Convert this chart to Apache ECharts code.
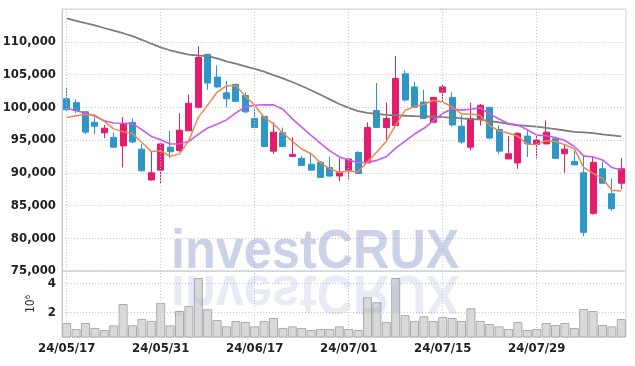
<!DOCTYPE html>
<html><head><meta charset="utf-8">
<script src="https://cdn.jsdelivr.net/npm/echarts@6/dist/echarts.min.js"></script>
<style>html,body{margin:0;padding:0;background:#fff}#c{width:635px;height:366px}</style>
</head><body><div id="c"></div>
<script>
const dates = ['24/05/17','24/05/20','24/05/21','24/05/22','24/05/23','24/05/24','24/05/27','24/05/28','24/05/29','24/05/30',
'24/05/31','24/06/03','24/06/04','24/06/05','24/06/07','24/06/10','24/06/11','24/06/12','24/06/13','24/06/14',
'24/06/17','24/06/18','24/06/19','24/06/20','24/06/21','24/06/24','24/06/25','24/06/26','24/06/27','24/06/28',
'24/07/01','24/07/02','24/07/03','24/07/04','24/07/05','24/07/08','24/07/09','24/07/10','24/07/11','24/07/12',
'24/07/15','24/07/16','24/07/17','24/07/18','24/07/19','24/07/22','24/07/23','24/07/24','24/07/25','24/07/26',
'24/07/29','24/07/30','24/07/31','24/08/01','24/08/02','24/08/05','24/08/06','24/08/07','24/08/08','24/08/09'];
const opens  = [101300,100700,99300,97700,96100,95400,94100,97700,93600,88900,90400,93900,93400,96400,100000,108100,104600,102200,103500,101800,98300,98600,93300,96100,92500,92200,91300,91600,90800,89500,90400,93100,91500,99500,96900,97200,105100,103100,100800,97700,102300,101500,97100,93900,98300,100000,96600,92100,91500,95600,94300,94400,95200,92900,91700,90000,83800,90600,86800,88400];
const closes = [99600,99500,96200,97100,96800,93900,97400,94700,90300,90000,94400,93200,96500,100600,107600,103700,103100,101300,100900,99300,96900,94000,96200,94000,92800,91100,90400,89300,89500,90000,92100,89900,96900,96900,98300,104400,101100,100000,98300,101500,103100,97300,94700,98300,100300,95300,93300,92900,96000,94400,95000,96200,92200,93600,91200,80900,91600,88400,84500,90600];
const lows   = [99500,99100,95900,95900,95300,93800,90800,94500,90200,88800,88400,92200,93200,96400,99800,102700,103000,100000,100800,99100,96900,93900,92900,93900,92500,91000,90400,89200,89300,88700,89000,89800,91500,96900,95000,97200,100900,99900,98200,97700,100900,97000,94400,93400,97200,95100,92900,92100,90600,92400,92200,94400,92100,90000,91200,80300,83600,88400,84200,87500];
const highs  = [103100,101200,99400,98400,97300,96100,98500,98300,94400,93300,94500,96400,99100,101900,109300,108100,106400,104000,103600,102300,100000,98700,97700,96900,95400,92600,93000,91800,92500,92200,92200,93300,97700,103700,100700,107800,105600,103900,102700,101600,103500,102300,98800,100700,100500,100000,97200,95600,96200,96400,95600,98000,95200,94300,93300,92600,92500,91700,89100,92200];
const volumes = [1280000,870000,1280000,940000,800000,1120000,2580000,1120000,1550000,1420000,2650000,1120000,2100000,2450000,4360000,2220000,1480000,1050000,1420000,1350000,1050000,1420000,1620000,940000,1050000,940000,800000,870000,870000,1050000,870000,800000,3040000,2700000,1350000,4360000,1810000,1420000,1740000,1420000,1690000,1620000,1420000,2290000,1420000,1210000,1050000,870000,1350000,800000,870000,1280000,1140000,1280000,940000,2240000,2100000,1140000,1050000,1550000];
const ma5  = [98450,98700,98900,98800,97840,96700,96280,95980,94620,93260,93360,92520,92880,94940,98460,100320,102300,103260,103320,101660,100300,98480,97460,96080,94780,93620,92900,91520,90620,90060,90260,90160,91680,93160,94820,97280,99520,100140,100420,101060,100800,100040,98980,98980,98740,97180,96380,96020,95560,94380,94320,94900,94760,94280,93640,90820,89900,89140,87320,87200];
const ma10 = [99850,99480,99130,98620,97950,97600,97550,97500,96580,95550,95030,94400,94430,94780,95860,96840,97410,98070,99130,100060,100310,100390,100360,99700,98220,96960,95690,94490,93350,92420,91940,91530,91600,91890,92440,93770,94840,95910,96790,97940,99040,99780,99560,99700,99900,98990,98210,97500,97270,96560,95750,95640,95390,94920,94010,92570,92400,91950,90800,90420];
const ma60 = [113550,113200,112850,112500,112100,111700,111300,110850,110300,109700,109150,108700,108350,108050,107900,107800,107450,107000,106650,106250,105850,105450,104900,104400,103850,103250,102600,101900,101200,100500,99900,99400,99150,98980,98850,98780,98700,98640,98600,98550,98480,98420,98300,98200,98100,97900,97700,97450,97250,97150,97050,96850,96650,96450,96250,96150,96050,95850,95700,95550];
const dateTicks = ['24/05/17','24/05/31','24/06/17','24/07/01','24/07/15','24/07/29'];
const volumeTicks = [2000000, 4000000];

const UP = '#e31c6c', DOWN = '#2f96c8';
const GRIDC = '#c3c6dc';
const FONT = '"DejaVu Sans Condensed", sans-serif';
const candles = dates.map((d, i) => [opens[i], closes[i], lows[i], highs[i]]);
const vlines = {
  silent: true, symbol: ['none', 'none'], label: {show: false}, animation: false,
  lineStyle: {type: [1, 2], color: GRIDC, width: 1},
  data: dateTicks.map(d => ({xAxis: d}))
};
const lbl = {fontFamily: FONT, fontSize: 13, fontWeight: 'bold', color: '#222'};

const chart = echarts.init(document.getElementById('c'), null, {renderer: 'canvas'});
chart.setOption({
  animation: false,
  backgroundColor: '#fff',
  grid: [
    {left: 62, right: 9, top: 9, height: 262, show: true, borderColor: '#d2d2d2', borderWidth: 1, containLabel: false, outerBoundsMode: 'none'},
    {left: 62, right: 9, top: 271, height: 66, show: true, borderColor: '#d2d2d2', borderWidth: 1, containLabel: false, outerBoundsMode: 'none'}
  ],
  xAxis: [
    {type: 'category', gridIndex: 0, data: dates, axisLine: {show: false}, axisTick: {show: false}, axisLabel: {show: false}, splitLine: {show: false}},
    {type: 'category', gridIndex: 1, data: dates, axisLine: {show: false}, axisTick: {show: false}, splitLine: {show: false},
     axisLabel: Object.assign({interval: (i, v) => dateTicks.indexOf(v) >= 0, margin: 5}, lbl)}
  ],
  yAxis: [
    {type: 'value', gridIndex: 0, min: 75000, max: 115000, interval: 5000,
     axisLine: {show: true, lineStyle: {color: '#c8c8c8'}}, axisTick: {show: false},
     axisLabel: Object.assign({showMaxLabel: false, margin: 6, formatter: v => v.toLocaleString('en-US')}, lbl),
     splitLine: {lineStyle: {type: [1, 2], color: GRIDC}}},
    {type: 'value', gridIndex: 1, min: 320000, max: 4840000,
     name: '10⁶', nameLocation: 'middle', nameRotate: 90, nameGap: 24,
     nameTextStyle: {fontFamily: FONT, fontSize: 12, color: '#333'},
     axisLine: {show: true, lineStyle: {color: '#c8c8c8'}},
     axisTick: {show: false, customValues: volumeTicks},
     axisLabel: Object.assign({customValues: volumeTicks, margin: 6, formatter: v => String(v / 1000000)}, lbl),
     splitLine: {lineStyle: {type: [1, 2], color: GRIDC}}}
  ],
  graphic: [
    {type: 'text', x: 171, y: 291, scaleX: 0.9, scaleY: -1, z: 100, silent: true,
     style: {text: 'investCRUX', font: 'bold 56px "Liberation Sans"', fill: 'rgba(140,152,205,0.2)', verticalAlign: 'middle'}},
    {type: 'text', x: 171, y: 253, scaleX: 0.9, z: 100, silent: true,
     style: {text: 'investCRUX', font: 'bold 56px "Liberation Sans"', fill: 'rgba(140,155,205,0.45)', verticalAlign: 'middle'}}
  ],
  series: [
    {type: 'candlestick', xAxisIndex: 0, yAxisIndex: 0, data: candles, barWidth: 6.5,
     itemStyle: {color: UP, color0: DOWN, borderColor: UP, borderColor0: DOWN, borderWidth: 1},
     markLine: vlines},
    {type: 'line', xAxisIndex: 0, yAxisIndex: 0, data: ma60, showSymbol: false, symbol: 'none',
     lineStyle: {color: '#7d7d7d', width: 1.8}},
    {type: 'line', xAxisIndex: 0, yAxisIndex: 0, data: ma10, showSymbol: false, symbol: 'none',
     lineStyle: {color: '#c75ae9', width: 1.6}},
    {type: 'line', xAxisIndex: 0, yAxisIndex: 0, data: ma5, showSymbol: false, symbol: 'none',
     lineStyle: {color: '#ef874c', width: 1.5}},
    {type: 'bar', xAxisIndex: 1, yAxisIndex: 1, data: volumes, barWidth: '96%',
     itemStyle: {color: '#d9d9d9', borderColor: '#acacac', borderWidth: 1},
     markLine: vlines}
  ]
});
</script></body></html>
